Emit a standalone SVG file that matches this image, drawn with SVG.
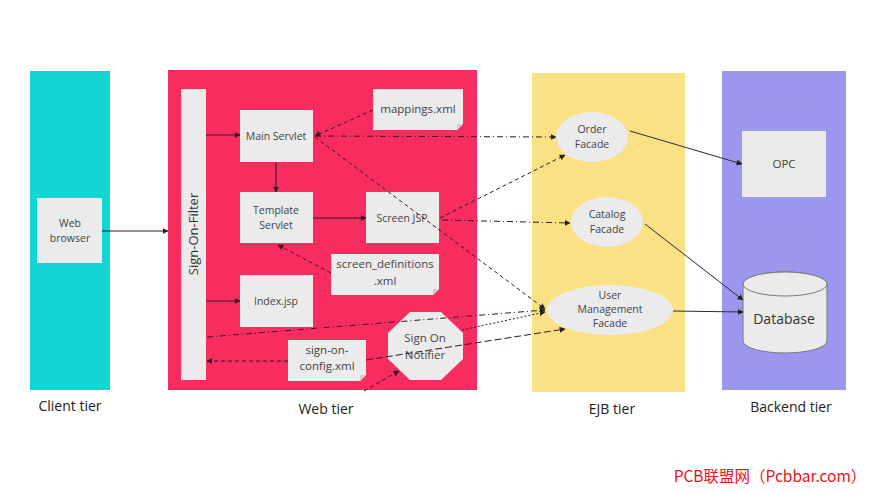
<svg xmlns="http://www.w3.org/2000/svg" width="875" height="492" viewBox="0 0 875 492">
<defs>
<marker id="ah" viewBox="0 0 10 10" refX="9" refY="5" markerWidth="6" markerHeight="6" orient="auto" markerUnits="userSpaceOnUse"><path d="M0,0 L10,5 L0,10 Z" fill="#222"/></marker>
</defs>
<style>
.tier{stroke:none}
.node{fill:#ebebeb;stroke:none}
.t{font-family:"Open Sans","Liberation Sans",sans-serif;font-size:10.5px;fill:#444;text-anchor:middle}
.t12{font-size:11.5px}
.lbl{font-family:"Open Sans","Liberation Sans",sans-serif;font-size:14px;fill:#222;text-anchor:middle}
.c{fill:none;stroke:#3a1520;stroke-width:1;marker-end:url(#ah)}
.s{stroke:#2a2a40}
.dash{stroke-dasharray:4,3}
.dd{stroke-dasharray:6,3,1,3}
.dot{stroke-dasharray:2,2}
</style>
<rect width="875" height="492" fill="#ffffff"/>
<g id="client-tier"><rect class="tier" x="30" y="71" width="80" height="319" fill="#12d6d3"/><text class="lbl" x="70" y="411">Client tier</text></g>
<g id="web-tier"><rect class="tier" x="168" y="70" width="309" height="320" fill="#f72d5f"/><text class="lbl" x="326" y="414">Web tier</text></g>
<g id="ejb-tier"><rect class="tier" x="532" y="73" width="153" height="319" fill="#fae183"/><text class="lbl" x="612" y="414">EJB tier</text></g>
<g id="backend-tier"><rect class="tier" x="722" y="71" width="124" height="319" fill="#9b97ef"/><text class="lbl" x="791" y="412">Backend tier</text></g>

<g id="web-browser"><rect class="node" x="37" y="198" width="65" height="65"/><text class="t" x="70" y="227">Web</text><text class="t" x="70" y="242">browser</text></g>
<g id="sign-on-filter"><rect class="node" x="181" y="89" width="25" height="291"/><text class="t" x="0" y="0" style="font-size:13px;fill:#333" transform="translate(198,234) rotate(-90)">Sign-On-Filter</text></g>
<g id="main-servlet"><rect class="node" x="240" y="110" width="73" height="52"/><text class="t" x="276" y="140">Main Servlet</text></g>
<g id="mappings-xml"><path class="node" d="M373,89 H463 V124 L457,130 H373 Z"/><path d="M457,130 L463,124 H457 Z" fill="#cfcfcf"/><text class="t t12" x="418" y="113">mappings.xml</text></g>
<g id="template-servlet"><rect class="node" x="240" y="192" width="73" height="51"/><text class="t" x="276" y="214">Template</text><text class="t" x="276" y="229">Servlet</text></g>
<g id="screen-jsp"><rect class="node" x="366" y="192" width="73" height="51"/><text class="t" x="402" y="222">Screen JSP</text></g>
<g id="screen-definitions"><path class="node" d="M331,254 H439 V289 L433,295 H331 Z"/><path d="M433,295 L439,289 H433 Z" fill="#cfcfcf"/><text class="t t12" x="385" y="268">screen_definitions</text><text class="t t12" x="385" y="285">.xml</text></g>
<g id="index-jsp"><rect class="node" x="240" y="275" width="73" height="52"/><text class="t" x="276" y="305">Index.jsp</text></g>
<g id="sign-on-config"><path class="node" d="M288,340 H366 V375 L360,381 H288 Z"/><path d="M360,381 L366,375 H360 Z" fill="#cfcfcf"/><text class="t t12" x="327" y="354">sign-on-</text><text class="t t12" x="327" y="370">config.xml</text></g>
<g id="sign-on-notifier"><polygon class="node" points="410,312 441,312 463,333 463,359 441,380 410,380 388,359 388,333"/><text class="t t12" x="425" y="342">Sign On</text><text class="t t12" x="425" y="359">Notifier</text></g>
<g id="order-facade"><ellipse class="node" cx="592" cy="137" rx="36" ry="25"/><text class="t" x="592" y="133">Order</text><text class="t" x="592" y="148">Facade</text></g>
<g id="catalog-facade"><ellipse class="node" cx="607" cy="222" rx="36" ry="25"/><text class="t" x="607" y="218">Catalog</text><text class="t" x="607" y="233">Facade</text></g>
<g id="user-management-facade"><ellipse class="node" cx="610" cy="310" rx="63" ry="25"/><text class="t" x="610" y="299">User</text><text class="t" x="610" y="313">Management</text><text class="t" x="610" y="327">Facade</text></g>
<g id="opc"><rect class="node" x="742" y="131" width="84" height="66"/><text class="t" x="784" y="168" style="font-size:11.5px">OPC</text></g>
<g id="database"><path d="M743,284 V341 A42,12 0 0 0 827,341 V284 A42,12 0 0 0 743,284 Z" fill="#ebebeb" stroke="#777" stroke-width="1"/><ellipse cx="785" cy="284" rx="42" ry="12" fill="#ebebeb" stroke="#777" stroke-width="1"/><text class="t" x="784" y="324" style="font-size:14px;fill:#333">Database</text></g>

<g id="connectors">
<line class="c" x1="102" y1="231" x2="168" y2="231"/>
<line class="c" x1="206" y1="135" x2="240" y2="135"/>
<line class="c" x1="276" y1="162" x2="276" y2="192"/>
<line class="c" x1="206" y1="301" x2="240" y2="301"/>
<line class="c" x1="313" y1="218" x2="366" y2="218"/>
<line class="c dash" x1="373" y1="110" x2="315" y2="136"/>
<line class="c dash" x1="331" y1="273" x2="278" y2="245"/>
<line class="c dash" x1="288" y1="361" x2="207" y2="361"/>
<line class="c dash" x1="364" y1="391" x2="399" y2="371"/>
<line class="c dd" x1="315" y1="136" x2="556" y2="137"/>
<line class="c dash" x1="440" y1="218" x2="565" y2="155"/>
<line class="c dd" x1="442" y1="220" x2="570" y2="223"/>
<line class="c dash" x1="315" y1="137" x2="545" y2="309"/>
<line class="c dd" x1="207" y1="337" x2="545" y2="310"/>
<line class="c dot" x1="462" y1="330" x2="545" y2="312"/>
<line class="c dash" x1="366" y1="360" x2="565" y2="329" style="stroke-dasharray:7,3"/>
<line class="c s" x1="630" y1="131" x2="742" y2="164"/>
<line class="c s" x1="645" y1="224" x2="743" y2="300"/>
<line class="c s" x1="673" y1="311" x2="743" y2="312"/>
</g>
<text x="770" y="482" style="font-family:'Noto Sans CJK SC',sans-serif;font-size:15.5px;fill:#e8141c;text-anchor:middle">PCB联盟网（Pcbbar.com）</text>
</svg>
